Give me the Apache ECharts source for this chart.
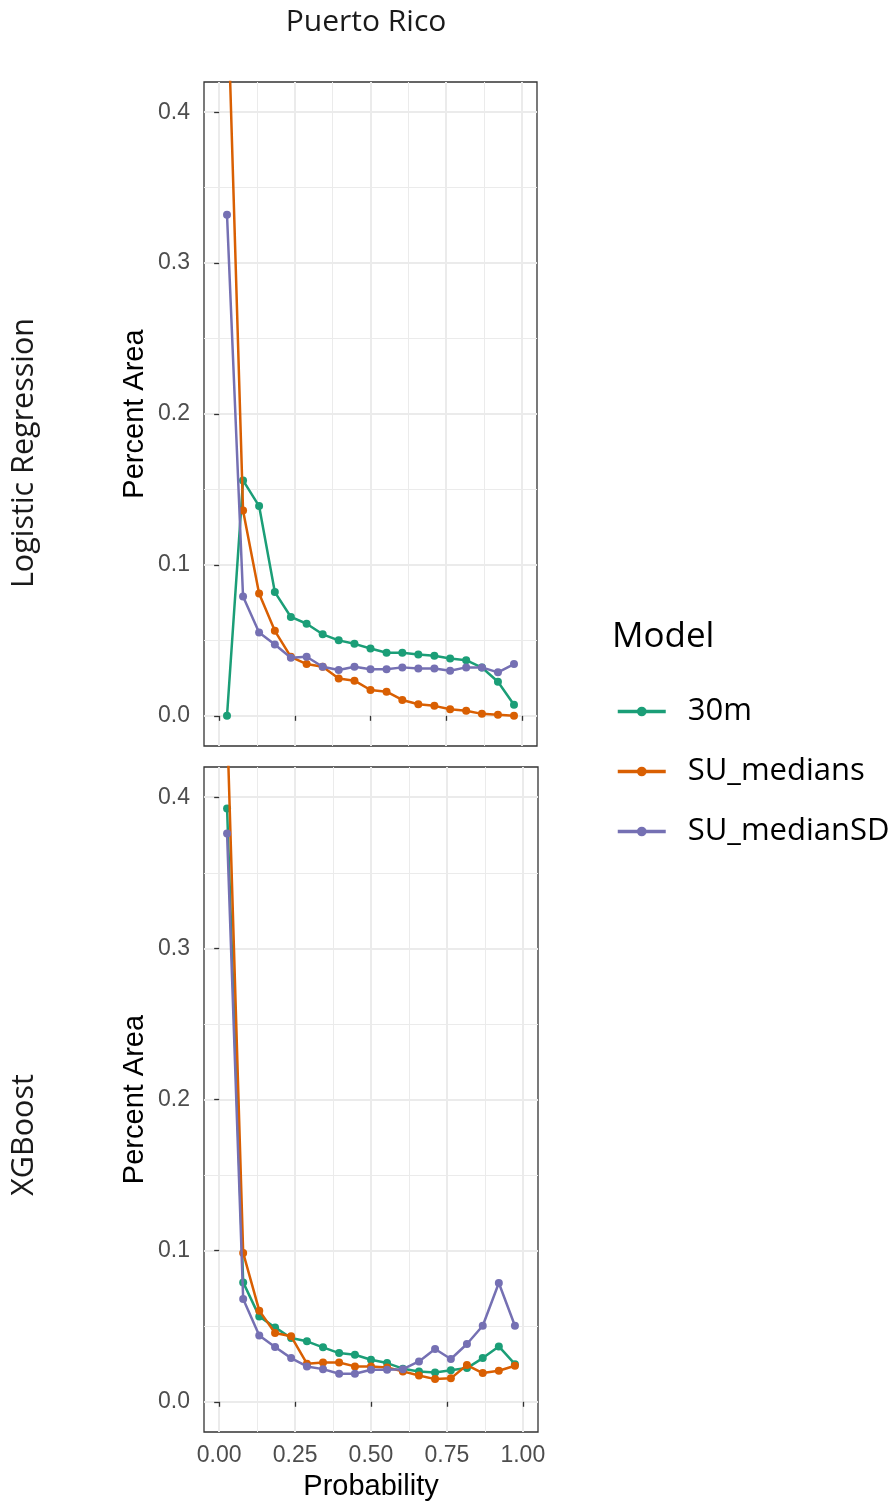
<!DOCTYPE html>
<html>
<head>
<meta charset="utf-8">
<script src="https://cdn.jsdelivr.net/npm/echarts@6/dist/echarts.min.js"></script>
<style>
html,body{margin:0;padding:0;background:#fff;}
#chart{width:895px;height:1503px;}
</style>
</head>
<body>
<div id="chart"></div>
<script>
// ---- data ----
const probability = [0.026, 0.079, 0.132, 0.184, 0.237, 0.289, 0.342, 0.395, 0.447, 0.500, 0.553, 0.605, 0.658, 0.711, 0.763, 0.816, 0.868, 0.921, 0.974];
const models = ['30m', 'SU_medians', 'SU_medianSD'];
const panels = ['Logistic Regression', 'XGBoost'];
const lr_30m        = [0.000, 0.156, 0.139, 0.082, 0.0655, 0.061, 0.054, 0.050, 0.0477, 0.0446, 0.0418, 0.0418, 0.0407, 0.0398, 0.038, 0.0369, 0.032, 0.0226, 0.0073];
const lr_medians    = [0.490, 0.136, 0.081, 0.0563, 0.0391, 0.0343, 0.0325, 0.0248, 0.0233, 0.0171, 0.016, 0.0105, 0.0077, 0.0066, 0.0044, 0.0033, 0.0013, 0.0007, 0.000];
const lr_medianSD   = [0.332, 0.0791, 0.0552, 0.0473, 0.0385, 0.0391, 0.0325, 0.0303, 0.0325, 0.0308, 0.0308, 0.0321, 0.0314, 0.0314, 0.0299, 0.0321, 0.0321, 0.0288, 0.0343];
const xgb_30m       = [0.3925, 0.079, 0.0565, 0.0492, 0.0422, 0.040, 0.036, 0.0322, 0.0311, 0.0278, 0.0256, 0.0219, 0.0201, 0.0194, 0.0208, 0.0223, 0.0289, 0.0366, 0.0249];
const xgb_medians   = [0.450, 0.0985, 0.0603, 0.0455, 0.0433, 0.0252, 0.026, 0.026, 0.0234, 0.0234, 0.0227, 0.0201, 0.0174, 0.015, 0.0155, 0.0243, 0.019, 0.0205, 0.0238];
const xgb_medianSD  = [0.376, 0.068, 0.0439, 0.0362, 0.0289, 0.0234, 0.0216, 0.0185, 0.0185, 0.0212, 0.0212, 0.0216, 0.0267, 0.0349, 0.0283, 0.0382, 0.0503, 0.0786, 0.0503];
const xTicks = [0, 0.25, 0.5, 0.75, 1];
const xMinor = [0.125, 0.375, 0.625, 0.875];
const yTicks = [0, 0.1, 0.2, 0.3, 0.4];
const yMinor = [0.05, 0.15, 0.25, 0.35];
const title = 'Puerto Rico';

// ---- styling ----
const colors = ['#1b9e77', '#d95f02', '#7570b3'];
const tickFont = 'Liberation Sans, Arial, sans-serif';
const textFont = 'Open Sans, Noto Sans, sans-serif';
const gridCol = '#ebebeb';

const grids = [
  {left: 204, top: 82, width: 333, height: 664},
  {left: 204, top: 767, width: 334, height: 665}
];

function xMajor(gi, labels) {
  return {
    type: 'value', gridIndex: gi, min: -0.05, max: 1.05,
    axisLine: {show: false},
    axisTick: {show: true, length: 5, customValues: xTicks, lineStyle: {color: '#333', width: 1.3}},
    axisLabel: {show: labels, customValues: xTicks, margin: 12, color: '#4d4d4d', fontSize: 23, fontFamily: tickFont,
      formatter: v => v.toFixed(2)},
    splitLine: {show: true, lineStyle: {color: gridCol, width: 2}},
    name: labels ? 'Probability' : '', nameLocation: 'middle', nameGap: 40,
    nameTextStyle: {color: '#000', fontSize: 29, fontFamily: tickFont}
  };
}
function xMin(gi) {
  return {
    type: 'value', gridIndex: gi, min: -0.05, max: 1.05, position: 'top',
    axisLine: {show: false},
    axisTick: {show: false, customValues: xMinor},
    axisLabel: {show: false, customValues: xMinor},
    splitLine: {show: true, lineStyle: {color: gridCol, width: 1}}
  };
}
function yMajor(gi) {
  return {
    type: 'value', gridIndex: gi, min: -0.02, max: 0.42,
    axisLine: {show: false},
    axisTick: {show: true, length: 5, customValues: yTicks, lineStyle: {color: '#333', width: 1.3}},
    axisLabel: {show: true, customValues: yTicks, margin: 14, color: '#4d4d4d', fontSize: 23, fontFamily: tickFont,
      formatter: v => v.toFixed(1)},
    splitLine: {show: true, lineStyle: {color: gridCol, width: 2}},
    name: 'Percent Area', nameLocation: 'middle', nameGap: 55, nameRotate: 90,
    nameTextStyle: {color: '#000', fontSize: 29, fontFamily: tickFont}
  };
}
function yMin(gi) {
  return {
    type: 'value', gridIndex: gi, min: -0.02, max: 0.42, position: 'right',
    axisLine: {show: false},
    axisTick: {show: false, customValues: yMinor},
    axisLabel: {show: false, customValues: yMinor},
    splitLine: {show: true, lineStyle: {color: gridCol, width: 1}}
  };
}

const panelData = [
  [lr_30m, lr_medians, lr_medianSD],
  [xgb_30m, xgb_medians, xgb_medianSD]
];

const series = [];
panelData.forEach((arrs, p) => {
  arrs.forEach((vals, m) => {
    series.push({
      type: 'line', name: models[m],
      xAxisIndex: p * 2, yAxisIndex: p * 2,
      data: probability.map((x, i) => [x, vals[i]]),
      symbol: 'circle', symbolSize: 8, showSymbol: true,
      lineStyle: {color: colors[m], width: 2.5},
      itemStyle: {color: colors[m]},
      clip: true, z: 3 + m
    });
  });
});

const option = {
  animation: false,
  backgroundColor: '#fff',
  grid: grids.map(g => Object.assign({show: true, borderColor: '#333', borderWidth: 1.3, backgroundColor: '#fff', containLabel: false}, g)),
  xAxis: [xMajor(0, false), xMin(0), xMajor(1, true), xMin(1)],
  yAxis: [yMajor(0), yMin(0), yMajor(1), yMin(1)],
  legend: {
    data: models, orient: 'vertical', left: 611, top: 691,
    itemWidth: 48, itemHeight: 12, itemGap: 29,
    lineStyle: {width: 3.5},
    textStyle: {color: '#000', fontSize: 31, fontFamily: textFont, padding: [0, 0, 0, 17]}
  },
  graphic: [
    {type: 'text', x: 366, y: 22, style: {text: title, fill: '#1a1a1a', font: '30px ' + textFont, textAlign: 'center', textVerticalAlign: 'middle'}},
    {type: 'text', x: 24, y: 453, rotation: Math.PI / 2, style: {text: panels[0], fill: '#1a1a1a', font: '30.5px ' + textFont, textAlign: 'center', textVerticalAlign: 'middle'}},
    {type: 'text', x: 24, y: 1135, rotation: Math.PI / 2, style: {text: panels[1], fill: '#1a1a1a', font: '30.5px ' + textFont, textAlign: 'center', textVerticalAlign: 'middle'}},
    {type: 'text', x: 612, y: 637, style: {text: 'Model', fill: '#000', font: '35px ' + textFont, textAlign: 'left', textVerticalAlign: 'middle'}}
  ],
  series: series
};

const chart = echarts.init(document.getElementById('chart'), null, {renderer: 'canvas'});
chart.setOption(option);
</script>
</body>
</html>
